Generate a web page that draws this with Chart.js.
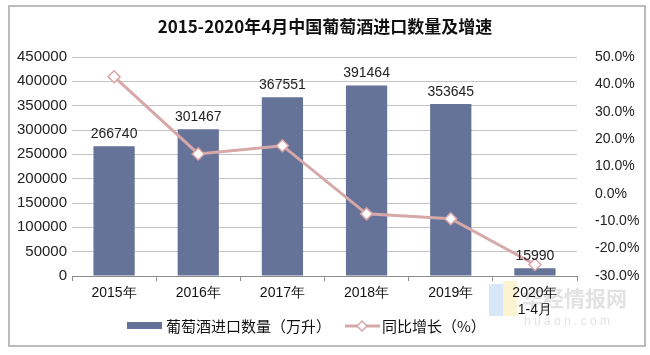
<!DOCTYPE html>
<html>
<head>
<meta charset="utf-8">
<script src="https://cdn.jsdelivr.net/npm/chart.js@4/dist/chart.umd.min.js"></script>
<style>
html,body{margin:0;padding:0;background:#fff;}
#wrap{width:650px;height:355px;position:relative;}
</style>
</head>
<body>
<div id="wrap"><canvas id="c" width="650" height="355"></canvas></div>
<script>
const titleText = '2015-2020年4月中国葡萄酒进口数量及增速';
const categories = [['2015年'], ['2016年'], ['2017年'], ['2018年'], ['2019年'], ['2020年', '1-4月']];
const volumeLabel = '葡萄酒进口数量（万升）';
const growthLabel = '同比增长（%）';
const volumeValues = [266740, 301467, 367551, 391464, 353645, 15990];
const growthValues = [42.8, 14.6, 17.6, -7.3, -9.1, -25.8];
const leftTicks = [0, 50000, 100000, 150000, 200000, 250000, 300000, 350000, 400000, 450000];
const rightTicks = [-30, -20, -10, 0, 10, 20, 30, 40, 50];

const BAR = '#667399';
const LINE = '#d6a8a8';
const NUM_FONT = '"Liberation Sans", Arial, sans-serif';
const CJK_FONT = '"Noto Sans CJK SC", "Liberation Sans", sans-serif';

const decor = {
  id: 'decor',
  beforeDraw(chart) {
    const ctx = chart.ctx;
    ctx.save();
    ctx.globalAlpha = 0.3;
    ctx.fillStyle = '#7fb0e8';
    ctx.fillRect(489, 284, 14, 32);
    ctx.fillStyle = '#f2d66b';
    ctx.fillRect(503, 281, 14, 35);
    ctx.globalAlpha = 0.3;
    ctx.fillStyle = '#a0a0a0';
    ctx.font = 'bold 21px ' + CJK_FONT;
    ctx.textAlign = 'left';
    ctx.textBaseline = 'middle';
    ctx.fillText('华经情报网', 522, 298);
    ctx.font = '12px ' + NUM_FONT;
    ctx.fillText('h u a o n . c o m', 524, 322);
    ctx.restore();
  },
  afterDatasetsDraw(chart) {
    const ctx = chart.ctx;
    const meta = chart.getDatasetMeta(0);
    ctx.save();
    ctx.fillStyle = '#222';
    ctx.font = '14px ' + NUM_FONT;
    ctx.textAlign = 'center';
    ctx.textBaseline = 'bottom';
    meta.data.forEach((bar, i) => {
      ctx.fillText(String(volumeValues[i]), bar.x, bar.y - 5);
    });
    ctx.restore();
  },
  afterDraw(chart) {
    const ctx = chart.ctx;
    ctx.save();
    ctx.strokeStyle = '#a6a6a6';
    ctx.lineWidth = 1.5;
    ctx.strokeRect(9, 6, 636, 340);
    ctx.fillStyle = '#111';
    ctx.font = 'bold 17px ' + CJK_FONT;
    ctx.textAlign = 'center';
    ctx.textBaseline = 'middle';
    ctx.fillText(titleText, 325, 27);
    ctx.fillStyle = BAR;
    ctx.fillRect(127, 322, 35, 7);
    ctx.fillStyle = '#111';
    ctx.font = '15px ' + CJK_FONT;
    ctx.textAlign = 'left';
    ctx.textBaseline = 'middle';
    ctx.fillText(volumeLabel, 166, 326);
    ctx.strokeStyle = LINE;
    ctx.lineWidth = 3;
    ctx.beginPath();
    ctx.moveTo(345, 326);
    ctx.lineTo(380, 326);
    ctx.stroke();
    ctx.fillStyle = '#fff';
    ctx.lineWidth = 1.5;
    ctx.beginPath();
    ctx.moveTo(362, 321); ctx.lineTo(367, 326); ctx.lineTo(362, 331); ctx.lineTo(357, 326); ctx.closePath();
    ctx.fill(); ctx.stroke();
    ctx.fillStyle = '#111';
    ctx.fillText(growthLabel, 382, 326);
    ctx.restore();
  }
};

new Chart(document.getElementById('c'), {
  type: 'bar',
  data: {
    labels: categories,
    datasets: [
      {
        label: volumeLabel,
        data: volumeValues,
        backgroundColor: BAR,
        yAxisID: 'y',
        order: 2,
        categoryPercentage: 1,
        barPercentage: 0.49
      },
      {
        type: 'line',
        label: growthLabel,
        data: growthValues,
        borderColor: LINE,
        borderWidth: 3,
        pointStyle: 'rectRot',
        pointRadius: 6,
        pointBorderWidth: 1.5,
        pointBackgroundColor: '#fff',
        pointBorderColor: '#dba3a3',
        yAxisID: 'y1',
        order: 1,
        tension: 0
      }
    ]
  },
  options: {
    responsive: false,
    animation: false,
    layout: { padding: { top: 57, bottom: 37, left: 0, right: 0 } },
    plugins: { legend: { display: false }, title: { display: false }, tooltip: { enabled: false } },
    scales: {
      x: {
        offset: true,
        grid: { display: true, drawOnChartArea: false, drawTicks: true, tickLength: 5, color: '#8c8c8c', offset: true },
        border: { display: true, color: '#8c8c8c', width: 1 },
        ticks: { color: '#111', font: { size: 14, family: NUM_FONT, lineHeight: 1.2 }, padding: 4, maxRotation: 0, autoSkip: false },
        afterFit(s) { s.height = 42; }
      },
      y: {
        position: 'left',
        min: 0, max: 450000,
        afterBuildTicks(s) { s.ticks = leftTicks.map(v => ({ value: v })); },
        grid: { color: '#c4c4c4', drawTicks: false, lineWidth: 1 },
        border: { display: false },
        ticks: { color: '#222', font: { size: 15, family: NUM_FONT }, padding: 5, callback: v => String(v) },
        afterFit(s) { s.width = 72; }
      },
      y1: {
        position: 'right',
        min: -30, max: 50,
        afterBuildTicks(s) { s.ticks = rightTicks.map(v => ({ value: v })); },
        grid: { drawOnChartArea: false, drawTicks: false },
        border: { display: false },
        ticks: { color: '#222', font: { size: 14, family: NUM_FONT }, padding: 18, callback: v => v.toFixed(1) + '%' },
        afterFit(s) { s.width = 73; }
      }
    }
  },
  plugins: [decor]
});
</script>
</body>
</html>
